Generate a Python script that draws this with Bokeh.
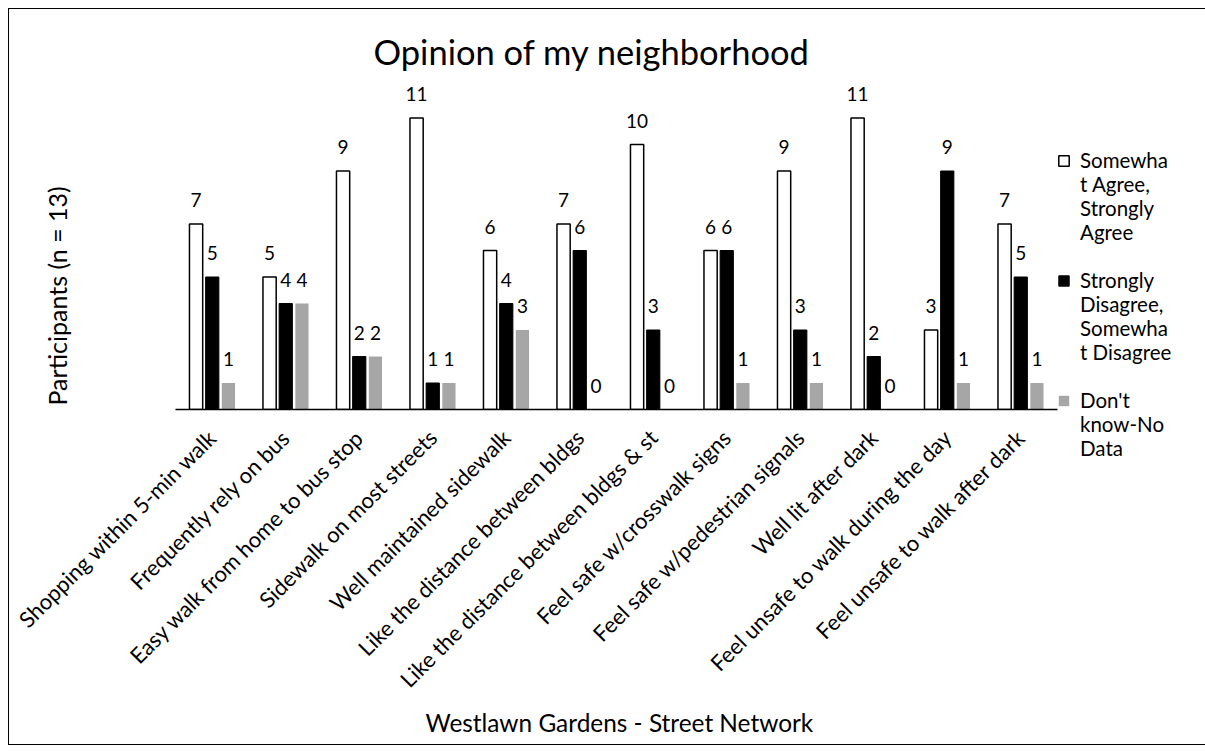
import math
from bokeh.plotting import figure
from bokeh.models import (ColumnDataSource, FactorRange, Range1d, LabelSet, Title,
                          Legend, LegendItem)
from bokeh.core.properties import value
from bokeh.transform import dodge
from bokeh.embed import file_html
from bokeh.resources import INLINE

categories = [
    "Shopping within 5-min walk",
    "Frequently rely on bus",
    "Easy walk from home to bus stop",
    "Sidewalk on most streets",
    "Well maintained sidewalk",
    "Like the distance between bldgs",
    "Like the distance between bldgs & st",
    "Feel safe w/crosswalk signs",
    "Feel safe w/pedestrian signals",
    "Well lit after dark",
    "Feel unsafe to walk during the day",
    "Feel unsafe to walk after dark",
]
agree = [7, 5, 9, 11, 6, 7, 10, 6, 9, 11, 3, 7]
disagree = [5, 4, 2, 1, 4, 6, 3, 6, 3, 2, 9, 5]
dont_know = [1, 4, 2, 1, 3, 0, 0, 1, 1, 0, 1, 1]

series_names = ["Somewha\nt Agree,\nStrongly\nAgree",
                "Strongly\nDisagree,\nSomewha\nt Disagree",
                "Don't\nknow-No\nData"]
title_text = "Opinion of my neighborhood"
x_title = "Westlawn Gardens - Street Network"
y_title = "Participants (n = 13)"

FONT = "Lato"
NBSP = "\u00a0"

src = ColumnDataSource(dict(
    cat=categories,
    agree=agree, disagree=disagree, dont_know=dont_know,
    agree_t=[str(v) for v in agree],
    disagree_t=[str(v) for v in disagree],
    dont_know_t=[str(v) for v in dont_know],
))

p = figure(frame_width=882, frame_height=330, output_backend="svg", toolbar_location=None,
           x_range=FactorRange(*categories, range_padding=0),
           y_range=Range1d(0, 330 / 26.5),
           y_axis_location=None,
           min_border_left=166, min_border_right=139,
           min_border_top=70, min_border_bottom=335)
p.styles = {"border": "1px solid black", "margin-left": "8px", "margin-top": "8px"}
p.outline_line_color = None
p.xgrid.visible = False
p.ygrid.visible = False

p.xaxis.axis_line_color = "black"
p.xaxis.axis_line_width = 1.5
p.xaxis.major_tick_line_color = None
p.xaxis.minor_tick_line_color = None
p.xaxis.major_label_orientation = math.pi / 4
p.xaxis.major_label_text_font = FONT
p.xaxis.major_label_text_font_size = "22px"
p.xaxis.major_label_text_color = "black"
p.xaxis.major_label_standoff = 18
p.xaxis.major_label_overrides = {c: c + NBSP * 8 for c in categories}

OFF = 0.22
W = 0.18
r1 = p.vbar(x=dodge("cat", -OFF, range=p.x_range), top="agree", width=W, source=src,
            fill_color="white", line_color="black", line_width=1.5)
r2 = p.vbar(x=dodge("cat", 0, range=p.x_range), top="disagree", width=W, source=src,
            fill_color="black", line_color="black", line_width=1)
r3 = p.vbar(x=dodge("cat", OFF, range=p.x_range), top="dont_know", width=W, source=src,
            fill_color="#A6A6A6", line_color=None)
# invisible renderer used only for the continuation lines of the legend
blank_src = ColumnDataSource(dict(cat=[], v=[]))
r_blank = p.vbar(x="cat", top="v", width=W, source=blank_src,
                 fill_alpha=0, line_alpha=0)

for off, field, tf in [(-OFF, "agree", "agree_t"), (0, "disagree", "disagree_t"),
                       (OFF, "dont_know", "dont_know_t")]:
    p.add_layout(LabelSet(x=dodge("cat", off, range=p.x_range), y=field, text=tf,
                          source=src, text_align="center", text_baseline="middle",
                          y_offset=24, text_font=value(FONT), text_font_size="19px",
                          text_color="black"))

items = []
for i, (name, rend) in enumerate(zip(series_names, [r1, r2, r3])):
    lines = name.split("\n")
    items.append(LegendItem(label=lines[0], renderers=[rend]))
    for ln in lines[1:]:
        items.append(LegendItem(label=ln, renderers=[r_blank]))
    if i < len(series_names) - 1:
        items.append(LegendItem(label=NBSP, renderers=[r_blank]))

legend = Legend(items=items, location=(0, -51))
legend.label_text_font = FONT
legend.label_text_font_size = "20.5px"
legend.label_text_color = "black"
legend.label_height = 20
legend.glyph_width = 13
legend.glyph_height = 13
legend.spacing = 0
legend.padding = 5
legend.margin = 0
legend.label_standoff = 10
legend.border_line_color = None
legend.background_fill_alpha = 0
p.add_layout(legend, "right")

p.title.text = title_text
p.title.align = "left"
p.title.offset = 198
p.title.text_font = FONT
p.title.text_font_size = "34.5px"
p.title.text_font_style = "normal"
p.title.text_color = "black"
p.title.standoff = 16

p.add_layout(Title(text=x_title, align="left", offset=250, text_font=FONT,
                   text_font_size="24.4px", text_font_style="normal",
                   text_color="black", standoff=2), "below")
# spacer between the plot area and the vertical axis title
p.add_layout(Title(text=NBSP, text_font_size="1px", standoff=96), "left")
p.add_layout(Title(text=y_title, align="left", offset=4,
                   text_font=FONT, text_font_size="25px", text_font_style="normal",
                   text_color="black", standoff=10), "left")

open("out.html", "w").write(file_html(p, INLINE))
